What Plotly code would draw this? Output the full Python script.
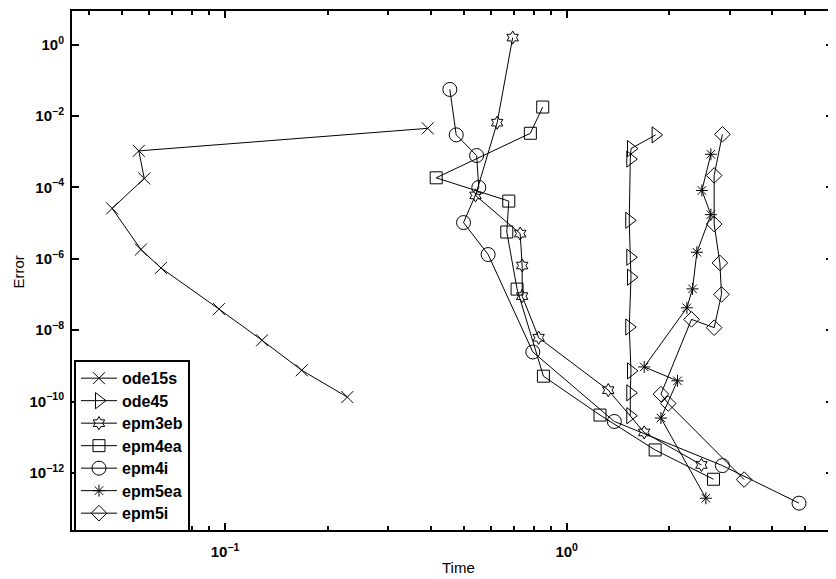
import plotly.graph_objects as go

# ---- data (Time, Error) ----
ode15s_t = [0.392, 0.0559, 0.0580, 0.0467, 0.0567, 0.0649, 0.0960, 0.1283, 0.1676, 0.228]
ode15s_e = [4.5e-3, 1.05e-3, 1.77e-4, 2.57e-5, 1.81e-6, 5.53e-7, 3.88e-8, 5.19e-9, 7.5e-10, 1.33e-10]

ode45_t = [1.822, 1.543, 1.536, 1.525, 1.536, 1.543, 1.525, 1.543, 1.536, 1.536]
ode45_e = [2.95e-3, 1.22e-3, 6.21e-4, 1.19e-5, 1.1e-6, 3.04e-7, 1.22e-8, 7.2e-10, 1.75e-10, 3.99e-11]

epm3eb_t = [0.695, 0.626, 0.541, 0.731, 0.741, 0.741, 0.828, 1.324, 1.687, 2.481]
epm3eb_e = [1.57, 6.5e-3, 5.94e-5, 5.06e-6, 6.45e-7, 8.97e-8, 6.13e-9, 2.08e-10, 1.36e-11, 1.67e-12]

epm4ea_t = [0.851, 0.783, 0.415, 0.677, 0.668, 0.716, 0.855, 1.252, 1.816, 2.691]
epm4ea_e = [1.78e-2, 3.27e-3, 1.85e-4, 4.12e-5, 5.61e-6, 1.41e-7, 5.12e-10, 4.17e-11, 4.39e-12, 6.63e-13]

epm4i_t = [0.455, 0.475, 0.545, 0.553, 0.499, 0.589, 0.796, 1.379, 2.858, 4.79]
epm4i_e = [5.53e-2, 2.95e-3, 7.78e-4, 9.93e-5, 1.03e-5, 1.31e-6, 2.44e-9, 2.76e-11, 1.6e-12, 1.42e-13]

epm5ea_t = [2.644, 2.488, 2.644, 2.406, 2.336, 2.249, 1.687, 2.111, 1.888, 2.556]
epm5ea_e = [8.46e-4, 8.19e-5, 1.72e-5, 1.52e-6, 1.43e-7, 4.22e-8, 9.31e-10, 3.79e-10, 3.44e-11, 1.95e-13]

epm5i_t = [2.858, 2.703, 2.703, 2.809, 2.840, 2.703, 2.320, 1.888, 1.983, 3.308]
epm5i_e = [3.06e-3, 2.15e-4, 9.38e-6, 7.63e-7, 1.0e-7, 1.17e-8, 2.0e-8, 1.61e-10, 8.79e-11, 6.5e-13]

series_names = ["ode15s", "ode45", "epm3eb", "epm4ea", "epm4i", "epm5ea", "epm5i"]

x_tick_vals = [0.1, 1]
x_tick_text = ["10<sup>−1</sup>", "10<sup>0</sup>"]
x_minor_vals = [0.04, 0.05, 0.06, 0.07, 0.08, 0.09,
                0.2, 0.3, 0.4, 0.5, 0.6, 0.7, 0.8, 0.9,
                2, 3, 4, 5, 6]
y_tick_vals = [1, 1e-2, 1e-4, 1e-6, 1e-8, 1e-10, 1e-12]
y_tick_text = ["10<sup>0</sup>", "10<sup>−2</sup>", "10<sup>−4</sup>", "10<sup>−6</sup>",
               "10<sup>−8</sup>", "10<sup>−10</sup>", "10<sup>−12</sup>"]

FONT = "Liberation Sans, Arial, Helvetica, sans-serif"

styles = [
    ("x-thin-open", 12),
    ("triangle-right-open", 14),
    ("hexagram-open", 10),
    ("square-open", 12),
    ("circle-open", 14),
    ("asterisk-open", 10),
    ("diamond-open", 12),
]
data = [
    (ode15s_t, ode15s_e), (ode45_t, ode45_e), (epm3eb_t, epm3eb_e),
    (epm4ea_t, epm4ea_e), (epm4i_t, epm4i_e), (epm5ea_t, epm5ea_e), (epm5i_t, epm5i_e),
]

fig = go.Figure()
for name, (t, e), (sym, sz) in zip(series_names, data, styles):
    fig.add_trace(go.Scatter(
        x=t, y=e, name="<span style='font-size:16px'>" + name + "</span>",
        mode="lines+markers",
        line=dict(color="black", width=1),
        marker=dict(symbol=sym, size=sz, color="black",
                    line=dict(color="black", width=1)),
    ))

# the page body adds an 8px offset, so the figure is 828x571
fig.update_layout(
    width=828, height=571,
    margin=dict(l=64, r=2, t=1, b=49),
    paper_bgcolor="white", plot_bgcolor="white",
    font=dict(family=FONT, color="black", size=15),
    showlegend=True,
    legend=dict(
        x=0.0026, y=-0.0037, xanchor="left", yanchor="bottom",
        bgcolor="white", bordercolor="black", borderwidth=2,
        font=dict(family=FONT, size=15, color="black", weight="bold"),
        itemwidth=36, tracegroupgap=0,
    ),
    xaxis=dict(
        type="log", range=[-1.4482, 0.7798],
        showgrid=False, zeroline=False,
        showline=True, linecolor="black", linewidth=2, mirror="allticks",
        ticks="inside", ticklen=7, tickwidth=1.5, tickcolor="black",
        tickmode="array", tickvals=x_tick_vals, ticktext=x_tick_text,
        tickfont=dict(family=FONT, size=15, color="black", weight="bold"),
        ticklabelstandoff=7,
        minor=dict(tickmode="array", tickvals=x_minor_vals, ticks="inside",
                   ticklen=4, tickwidth=1.5, tickcolor="black", showgrid=False),
    ),
    yaxis=dict(
        type="log", range=[-13.600, 0.9405],
        showgrid=False, zeroline=False,
        showline=True, linecolor="black", linewidth=2, mirror="allticks",
        ticks="inside", ticklen=7, tickwidth=1.5, tickcolor="black",
        tickmode="array", tickvals=y_tick_vals, ticktext=y_tick_text,
        tickfont=dict(family=FONT, size=15, color="black", weight="bold"),
        ticklabelstandoff=3,
    ),
    annotations=[
        dict(text="Error", xref="paper", yref="paper", x=-0.0715, y=0.4971,
             xanchor="center", yanchor="middle", textangle=-90, showarrow=False,
             font=dict(family=FONT, size=15, color="black")),
        dict(text="Time", xref="paper", yref="paper", x=0.5079, y=-0.0729,
             xanchor="center", yanchor="middle", showarrow=False,
             font=dict(family=FONT, size=15, color="black")),
    ],
)

fig.write_html("out.html")
